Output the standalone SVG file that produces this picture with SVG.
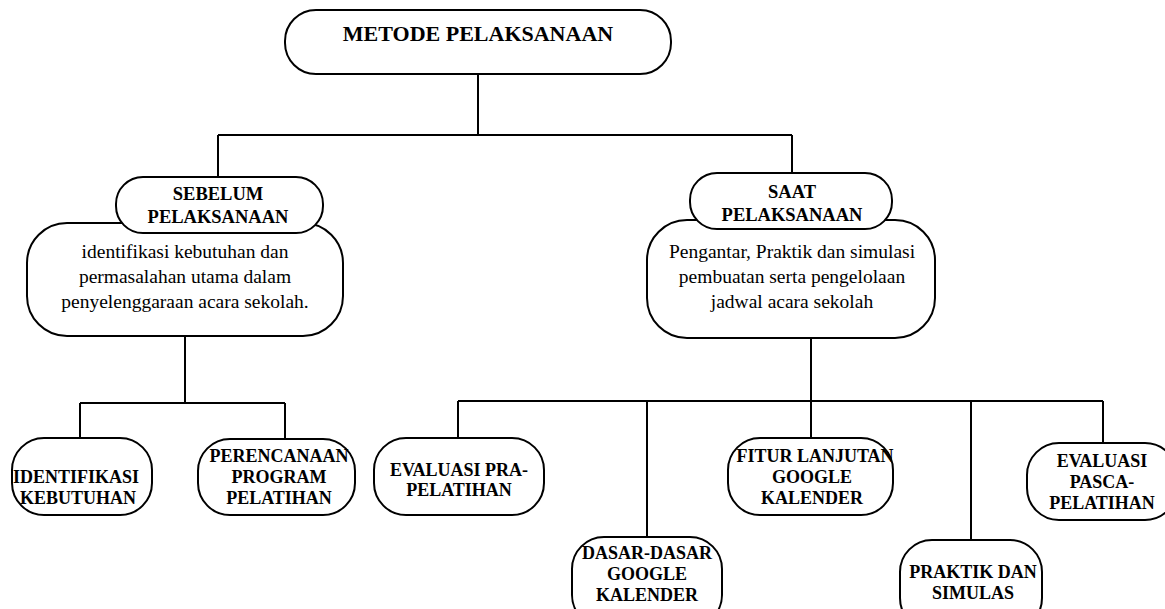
<svg xmlns="http://www.w3.org/2000/svg" width="1165" height="609" viewBox="0 0 1165 609">
<style>
.box{fill:#fff;stroke:#000;stroke-width:2}
.conn{fill:none;stroke:#000;stroke-width:2}
.t{font-family:"Liberation Serif","Times New Roman",serif;fill:#000;text-anchor:middle}
.b{font-weight:bold;font-size:18px}
.h{font-weight:bold;font-size:18.5px}
.r{font-size:19.5px}
</style>
<rect width="1165" height="609" fill="#fff"/>
<g id="connectors">
<path class="conn" d="M478 74V135M218 135H792M218 135V178M792 135V174"/>
<path class="conn" d="M185 336V403M80 403H285M80 403V439M285 403V439"/>
<path class="conn" d="M811 338V438M458 401H1103M458 401V439M647 401V538M971 401V541M1103 401V443"/>
</g>
<g id="metode">
<rect class="box" x="285" y="10" width="386" height="64" rx="31"/>
<text class="t" x="478" y="41" font-weight="bold" font-size="22">METODE PELAKSANAAN</text>
</g>
<g id="desc-sebelum">
<rect class="box" x="27" y="223" width="316" height="113" rx="40"/>
<text class="t r" x="185" y="258">identifikasi kebutuhan dan</text>
<text class="t r" x="185" y="283">permasalahan utama dalam</text>
<text class="t r" x="185" y="308">penyelenggaraan acara sekolah.</text>
</g>
<g id="sebelum">
<rect class="box" x="116" y="177" width="207" height="56" rx="27"/>
<text class="t h" x="218" y="200">SEBELUM</text>
<text class="t h" x="218" y="223">PELAKSANAAN</text>
</g>
<g id="desc-saat">
<rect class="box" x="647" y="220" width="288" height="118" rx="40"/>
<text class="t r" x="792" y="258">Pengantar, Praktik dan simulasi</text>
<text class="t r" x="792" y="283">pembuatan serta pengelolaan</text>
<text class="t r" x="792" y="308">jadwal acara sekolah</text>
</g>
<g id="saat">
<rect class="box" x="690" y="173" width="202" height="56" rx="27"/>
<text class="t h" x="792" y="198">SAAT</text>
<text class="t h" x="792" y="221">PELAKSANAAN</text>
</g>
<g id="identifikasi">
<rect class="box" x="12" y="438" width="140" height="77" rx="32"/>
<text class="t b" x="76" y="483">IDENTIFIKASI</text>
<text class="t b" x="78" y="504">KEBUTUHAN</text>
</g>
<g id="perencanaan">
<rect class="box" x="198" y="439" width="157" height="76" rx="32"/>
<text class="t b" x="279" y="462">PERENCANAAN</text>
<text class="t b" x="279" y="483">PROGRAM</text>
<text class="t b" x="279" y="504">PELATIHAN</text>
</g>
<g id="evaluasi-pra">
<rect class="box" x="374" y="438" width="170" height="77" rx="32"/>
<text class="t b" x="459" y="476">EVALUASI PRA-</text>
<text class="t b" x="459" y="496">PELATIHAN</text>
</g>
<g id="dasar">
<rect class="box" x="572" y="537" width="150" height="90" rx="32"/>
<text class="t b" x="647" y="559">DASAR-DASAR</text>
<text class="t b" x="647" y="580">GOOGLE</text>
<text class="t b" x="647" y="601">KALENDER</text>
</g>
<g id="fitur">
<rect class="box" x="728" y="438" width="165" height="77" rx="32"/>
<text class="t b" x="815" y="462">FITUR LANJUTAN</text>
<text class="t b" x="812" y="483">GOOGLE</text>
<text class="t b" x="812" y="504">KALENDER</text>
</g>
<g id="praktik">
<rect class="box" x="900" y="540" width="142" height="90" rx="32"/>
<text class="t b" x="973" y="578">PRAKTIK DAN</text>
<text class="t b" x="973" y="599">SIMULAS</text>
</g>
<g id="evaluasi-pasca">
<rect class="box" x="1027" y="443" width="150" height="77" rx="32"/>
<text class="t b" x="1102" y="467">EVALUASI</text>
<text class="t b" x="1102" y="488">PASCA-</text>
<text class="t b" x="1102" y="509">PELATIHAN</text>
</g>
</svg>
